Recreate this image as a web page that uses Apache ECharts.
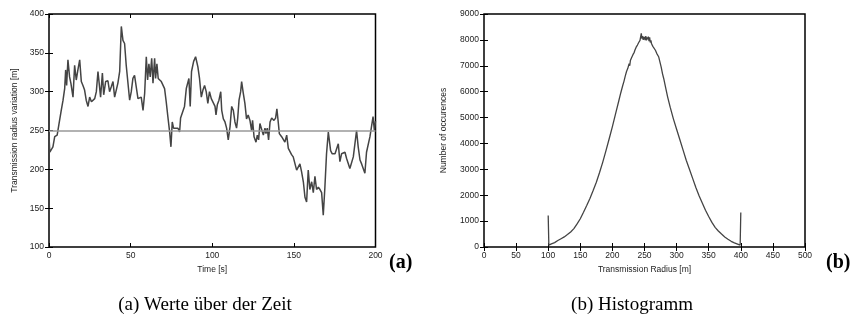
<!DOCTYPE html>
<html><head><meta charset="utf-8">
<script src="https://cdn.jsdelivr.net/npm/echarts@6/dist/echarts.min.js"></script>
<style>html,body{margin:0;padding:0;background:#fff}#c{width:855px;height:331px}</style>
</head><body><div id="c"></div>
<script>
// ---- data (a): transmission radius variation over time ----
const timeS = [0,0.5,1.4,2.4,3.5,4.5,5,6,7.5,8.6,9.6,10.2,10.8,11.6,12.6,13.4,14.7,15.7,16.7,17.7,18.8,19.8,20.8,21.8,22.8,23.9,24.9,26,27,28,29,30,31,31.6,32.7,33.5,34.7,36.1,37.1,38.1,39.2,40.2,41.2,42.2,43.3,44.3,45.3,46.3,47.3,48.3,49.4,50.4,51.4,52.4,53.5,54.5,55.5,56.5,57.6,58.6,59.6,60.4,61.2,62,62.9,63.7,64.7,65.3,66.1,66.9,68.8,70.8,71.8,72.8,73.9,74.7,75.5,76.3,77.6,79,80,80.6,81.6,83,84.1,85.1,85.7,86.5,87.3,88.6,89.8,91.2,92.2,93.3,94.3,95.3,96.3,97.3,98.3,99.4,100.4,101.7,102.3,103.1,104.1,105.2,105.8,106.8,107.8,108.8,109.8,110.9,111.9,112.9,113.9,114.9,115.6,116.4,117.4,118,119,120,121,122,123.1,124.1,124.7,125.6,126.8,127.6,128.4,129.2,130.3,131.3,132.3,132.9,133.7,134.5,135.4,136.4,137.8,138.8,139.6,140.5,141.1,142.5,143.5,144.5,145.6,146.6,147.6,148.6,149.6,150.7,151.7,152.7,153.7,154.7,155.8,156.8,157.8,158.8,159.8,160.9,161.9,162.9,163.9,165,166,167,168,169,170,171.1,171.7,172.5,173.5,175.2,176.2,177.2,178.2,179.2,180.3,181.3,182.3,183.3,184.3,185.4,186.4,187.4,188.4,189.4,190.5,191.5,192.5,193.5,194.5,195.5,196.6,197.6,198.5,199.3,200];
const radiusM = [243,222,222,229,242,244,244,257,276,289,304,328,308,341,319,311,293,334,315,328,341,313,308,302,289,281,293,287,285,291,300,326,327,293,324,296,313,314,300,306,313,293,293,311,326,384,366,362,334,332,289,300,317,321,319,291,291,293,276,298,345,315,336,319,343,311,343,317,336,317,313,304,287,268,248,229,261,253,253,253,248,266,268,281,304,304,317,281,326,339,345,332,317,293,302,308,300,285,300,291,293,281,270,283,289,300,276,265,261,253,238,255,281,276,261,253,266,289,300,313,298,285,265,270,263,250,263,242,235,244,238,259,259,244,253,246,253,238,261,266,263,266,278,259,246,242,240,235,244,227,229,219,216,207,199,199,207,197,184,164,158,199,174,184,170,191,174,177,174,170,141,177,220,248,250,224,220,220,222,233,210,220,222,222,214,212,201,203,216,218,250,229,212,207,207,195,222,220,242,242,268,250,262];
const refRadius = 250;

// ---- data (b): histogram of transmission radius ----
const histRadius = [100,101,105,110,115,120,125,130,135,140,145,150,155,160,165,170,175,180,185,190,195,200,205,210,213,216,218,220,222,224,226,227,228,229,230,231,232,233,234,235,236,237,238,239,240,241,242,243,244,245,246,247,248,249,250,251,252,253,254,255,256,257,258,259,260,261,262,263,264,265,266,267,268,269,270,272,274,276,278,280,283,286,290,295,300,305,310,315,320,325,330,335,340,345,350,355,360,365,370,375,380,385,390,395,399,400];
const histCount = [1220,70,120,170,250,320,390,480,580,710,890,1090,1340,1600,1870,2180,2500,2880,3280,3720,4180,4650,5150,5650,5950,6230,6400,6600,6780,6900,7080,7000,7200,7150,7320,7250,7430,7380,7520,7600,7550,7720,7680,7800,7760,7900,7850,7980,7920,8250,8050,8150,8000,8120,8080,8000,8150,7980,8100,8020,8130,7950,8100,7900,7980,7850,7900,7750,7800,7700,7750,7600,7620,7480,7500,7350,7150,6950,6700,6500,6150,5800,5400,4950,4550,4150,3750,3350,3000,2650,2300,1980,1700,1420,1180,950,760,620,500,390,300,220,160,110,70,1330];

const captionA = '(a) Werte über der Zeit';
const captionB = '(b) Histogramm';

const chart = echarts.init(document.getElementById('c'), null, {renderer: 'canvas'});
const lab = {fontFamily: 'Liberation Sans', fontSize: 8.5, color: '#222', formatter: v => String(v)};
const nameStyle = {fontFamily: 'Liberation Sans', fontSize: 8.5, color: '#222'};
function xAx(grid, min, max, interval, name, pos) {
  const top = pos === 'top';
  return {type: 'value', gridIndex: grid, position: pos, min, max, interval,
    name: top ? '' : name, nameLocation: 'middle', nameGap: 14, nameTextStyle: nameStyle,
    axisLine: {show: false}, splitLine: {show: false},
    axisTick: {show: true, inside: true, length: 4, lineStyle: {color: '#000', width: 1}},
    axisLabel: Object.assign({show: !top, margin: 4}, lab)};
}
function yAx(grid, min, max, interval, name, pos, gap) {
  const right = pos === 'right';
  return {type: 'value', gridIndex: grid, position: pos, min, max, interval,
    name: right ? '' : name, nameLocation: 'middle', nameGap: gap, nameTextStyle: nameStyle,
    axisLine: {show: false}, splitLine: {show: false},
    axisTick: {show: true, inside: true, length: 4, lineStyle: {color: '#000', width: 1}},
    axisLabel: Object.assign({show: !right, margin: 5}, lab)};
}
const border = {show: true, borderColor: '#000', borderWidth: 1.5, backgroundColor: 'transparent'};
chart.setOption({
  animation: false,
  grid: [
    Object.assign({left: 49, right: 479.5, top: 14, bottom: 84}, border),
    Object.assign({left: 484, right: 50, top: 14, bottom: 84}, border)
  ],
  xAxis: [
    xAx(0, 0, 200, 50, 'Time [s]', 'bottom'),
    xAx(0, 0, 200, 50, '', 'top'),
    xAx(1, 0, 500, 50, 'Transmission Radius [m]', 'bottom'),
    xAx(1, 0, 500, 50, '', 'top')
  ],
  yAxis: [
    yAx(0, 100, 400, 50, 'Transmission radius variation [m]', 'left', 30),
    yAx(0, 100, 400, 50, '', 'right', 0),
    yAx(1, 0, 9000, 1000, 'Number of occurences', 'left', 36),
    yAx(1, 0, 9000, 1000, '', 'right', 0)
  ],
  series: [
    {type: 'line', xAxisIndex: 0, yAxisIndex: 0, showSymbol: false, silent: true,
     data: timeS.map((t, i) => [t, radiusM[i]]),
     lineStyle: {color: '#444', width: 1.5},
     markLine: {silent: true, symbol: 'none', label: {show: false},
       lineStyle: {color: '#999', width: 1.5, type: 'solid'}, data: [{yAxis: refRadius}]}},
    {type: 'line', xAxisIndex: 2, yAxisIndex: 2, showSymbol: false, silent: true,
     data: histRadius.map((r, i) => [r, histCount[i]]),
     lineStyle: {color: '#444', width: 1.3}}
  ],
  graphic: [
    {type: 'text', left: 389, top: 253, style: {text: '(a)', font: 'bold 20px "Liberation Serif"', fill: '#000'}},
    {type: 'text', left: 826, top: 253, style: {text: '(b)', font: 'bold 20px "Liberation Serif"', fill: '#000'}},
    {type: 'text', x: 205, y: 305, style: {text: captionA, font: '19px "Liberation Serif"', fill: '#000', align: 'center', verticalAlign: 'middle'}},
    {type: 'text', x: 632, y: 305, style: {text: captionB, font: '19px "Liberation Serif"', fill: '#000', align: 'center', verticalAlign: 'middle'}}
  ]
});
</script></body></html>
